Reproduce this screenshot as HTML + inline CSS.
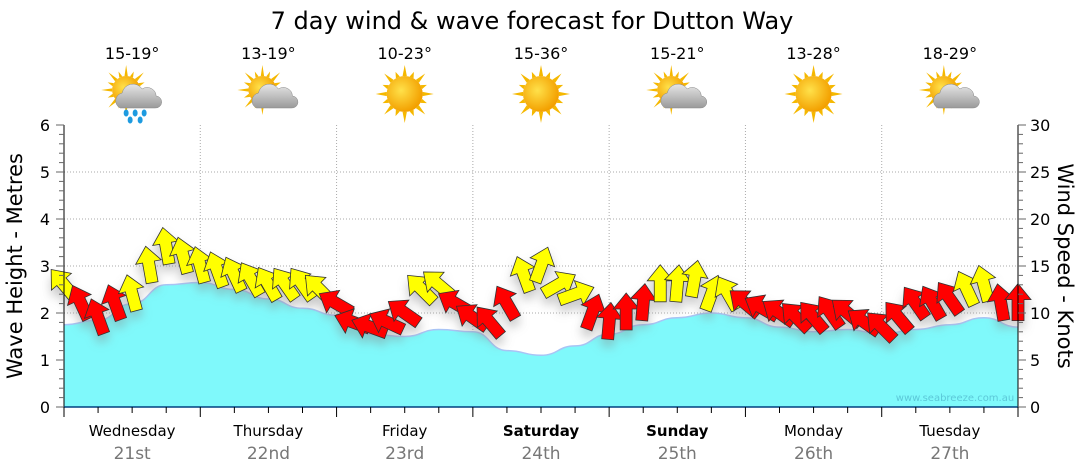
<!DOCTYPE html>
<html><head><meta charset="utf-8">
<style>
html,body{margin:0;padding:0;background:#fff;}
svg{display:block;font-family:"DejaVu Sans","Liberation Sans",sans-serif;}
</style></head>
<body>
<svg id="chart" width="1080" height="475" viewBox="0 0 1080 475" xmlns="http://www.w3.org/2000/svg">
<defs>
<filter id="sh" x="-20%" y="-20%" width="140%" height="160%"><feDropShadow dx="0" dy="7" stdDeviation="5" flood-color="#888" flood-opacity="0.45"/></filter>
<radialGradient id="sunG" cx="0.4" cy="0.4" r="0.6"><stop offset="0" stop-color="#ffe14a"/><stop offset="1" stop-color="#f3a000"/></radialGradient>
<linearGradient id="cloudG" x1="0" y1="0" x2="0" y2="1"><stop offset="0" stop-color="#e6e6e6"/><stop offset="1" stop-color="#9a9a9a"/></linearGradient>
</defs>
<text x="532" y="29" text-anchor="middle" font-size="24" fill="#000">7 day wind &amp; wave forecast for Dutton Way</text>
<g id="grid"></g>
<g id="waves"></g>
<g id="arrows" filter="url(#sh)"></g>
<g id="axes"></g>
<g id="header"></g>
<text x="955" y="401" text-anchor="middle" font-size="10" fill="#5cc8d8">www.seabreeze.com.au</text>
<text transform="translate(22,266) rotate(-90)" text-anchor="middle" font-size="21">Wave Height - Metres</text>
<text transform="translate(1058,266) rotate(90)" text-anchor="middle" font-size="21">Wind Speed - Knots</text>
</svg>
<script>
const days = ["Wednesday","Thursday","Friday","Saturday","Sunday","Monday","Tuesday"];
const dates = ["21st","22nd","23rd","24th","25th","26th","27th"];
const boldDays = [false,false,false,true,true,false,false];
const temps = ["15-19°","13-19°","10-23°","15-36°","15-21°","13-28°","18-29°"];
const icons = ["rain","cloud","sun","sun","cloud","sun","cloud"];
const waveHours = [0,6,12,18,24,30,36,42,48,54,60,66,72,78,84,90,96,102,108,114,120,126,132,138,144,150,156,162,168];
const waveHeight = [1.75,1.85,2.2,2.6,2.65,2.5,2.3,2.1,1.95,1.55,1.5,1.65,1.6,1.2,1.1,1.3,1.55,1.75,1.9,2.0,1.9,1.7,1.6,1.65,1.55,1.65,1.75,1.9,1.7];
const windHours = [0,3,6,9,12,15,18,21,24,27,30,33,36,39,42,45,48,51,54,57,60,63,66,69,72,75,78,81,84,87,90,93,96,99,102,105,108,111,114,117,120,123,126,129,132,135,138,141,144,147,150,153,156,159,162,165,168];
const windSpeed = [13,11,9.5,11,12,15,17,16,15,14.5,14,13.5,13,13,13,12.5,11,9,8.5,9,10,12.5,13,11,9.5,9,11,14,15,13,12,10,9,10,11,13,13,13.5,12,12,11,10.5,10,9.5,9.5,10,10,9,8.5,9.5,11,11,11.5,12.5,13,11,11];
const windDir = [-40,-25,-20,-20,-15,-10,-10,-15,-15,-20,-25,-30,-30,-35,-35,-45,-60,-70,-70,-65,-55,-45,-50,-60,-55,-40,-30,-20,20,60,70,20,5,0,5,0,5,10,20,-30,-50,-60,-55,-45,-40,-35,-50,-55,-45,-40,-35,-30,-35,-25,-15,-10,0];

const X0=64,X1=1018,Y0=407,Y1=125;
const NS="http://www.w3.org/2000/svg";
function xH(h){return X0+(X1-X0)*h/168;}
function yM(m){return Y0-(Y0-Y1)*m/6;}
function yK(k){return Y0-(Y0-Y1)*k/30;}
function mk(tag,attrs,parent){const e=document.createElementNS(NS,tag);for(const k in attrs)e.setAttribute(k,attrs[k]);parent.appendChild(e);return e;}

const grid=document.getElementById('grid');
for(let m=1;m<=5;m++){const l=mk('line',{x1:X0,x2:X1,y1:yM(m),y2:yM(m),stroke:'#aaa','stroke-dasharray':'1,2'},grid);

}
for(let d=1;d<7;d++){const l=mk('line',{x1:xH(d*24),x2:xH(d*24),y1:Y1,y2:Y0,stroke:'#aaa','stroke-dasharray':'1,2'},grid);

}

// waves
const wv=document.getElementById('waves');
const wpts=waveHours.map((h,i)=>[xH(h),yM(waveHeight[i])]);
let wd='M'+wpts[0][0]+','+wpts[0][1];
for(let i=1;i<wpts.length;i++){const p=wpts[i-1],q=wpts[i],mx=(p[0]+q[0])/2;wd+=' C'+mx+','+p[1]+' '+mx+','+q[1]+' '+q[0]+','+q[1];}
const waveTopPath=wd;
const areaPath='M'+X0+','+Y0+' L'+wd.slice(1)+' L'+X1+','+Y0+' Z';
const wa=mk('path',{d:areaPath,fill:'#7ff9fb'},wv);


const wl=mk('path',{d:waveTopPath,fill:'none',stroke:'#a9c4f5','stroke-width':1.5},wv);



// arrows
const ag=document.getElementById('arrows');
windHours.forEach((h,i)=>{
  const cx=xH(h),cy=yK(windSpeed[i]);
  const col=windSpeed[i]>=12?'#ffff00':'#ff0000';
  const a=mk('path',{d:'M0,-20 L13,-4 L6,-4 L6,17 L-6,17 L-6,-4 L-13,-4 Z',fill:col,stroke:'#333','stroke-width':0.8,transform:'translate('+cx+','+cy+') rotate('+windDir[i]+')'},ag);
  
  
});

// axes
const ax=document.getElementById('axes');
mk('line',{x1:X0,x2:X0,y1:Y1,y2:Y0,stroke:'#000'},ax);
mk('line',{x1:X1,x2:X1,y1:Y1,y2:Y0,stroke:'#000'},ax);
mk('line',{x1:X0,x2:X1,y1:Y0,y2:Y0,stroke:'#004080','stroke-width':1.5},ax);
for(let m=0;m<=6;m++){
  const t=mk('text',{x:50,y:yM(m)+6,'text-anchor':'end','font-size':16},ax);t.textContent=m;
  
  
}
for(let k=0;k<=30;k+=5){
  const t=mk('text',{x:1030,y:yK(k)+6,'font-size':16},ax);t.textContent=k;
  
  
}
for(let s=0;s<=30;s++){const y=Y0-(Y0-Y1)*s/30;
  mk('line',{x1:X0-(s%5==0?8:5),x2:X0,y1:y,y2:y,stroke:'#666'},ax);
  mk('line',{x1:X1,x2:X1+(s%5==0?8:5),y1:y,y2:y,stroke:'#666'},ax);}
for(let h=0;h<=168;h+=6){const x=xH(h);mk('line',{x1:x,x2:x,y1:Y0,y2:Y0+(h%24==0?10:6),stroke:'#000'},ax);}

// header + day labels
const hd=document.getElementById('header');
function icon(type,cx,cy,g){
  const sun=type==='sun';
  const sx=sun?cx:cx-6,sy=sun?cy:cy-4,r=sun?18:14;
  for(let k=0;k<16;k++){const a=k*Math.PI/8,L=(k%2?r+6:r+11);
    mk('polygon',{points:(sx+Math.cos(a-0.12)*r)+','+(sy+Math.sin(a-0.12)*r)+' '+(sx+Math.cos(a)*L)+','+(sy+Math.sin(a)*L)+' '+(sx+Math.cos(a+0.12)*r)+','+(sy+Math.sin(a+0.12)*r),fill:'#f5b800'},g);}
  mk('circle',{cx:sx,cy:sy,r:r,fill:'url(#sunG)'},g);
  if(!sun){
    mk('path',{d:'M'+(cx-12)+','+(cy+14)+' a8,8 0 0 1 2,-15 a11,11 0 0 1 20,-4 a9,9 0 0 1 14,7 a6,6 0 0 1 -1,12 Z',fill:'url(#cloudG)',stroke:'#888','stroke-width':0.5},g);
    if(type==='rain'){[[-6,19],[3,19],[12,19],[-2,26],[8,26]].forEach(p=>mk('ellipse',{cx:cx+p[0],cy:cy+p[1],rx:2.5,ry:3.5,fill:'#1e9be0'},g));}
  }
}
days.forEach((dname,i)=>{
  const cx=xH(i*24+12);
  const t=mk('text',{x:cx,y:59,'text-anchor':'middle','font-size':16},hd);t.textContent=temps[i];
  
  
  const g=mk('g',{},hd);
  
  
  icon(icons[i],cx,94,g);
  const w=mk('text',{x:cx,y:436,'text-anchor':'middle','font-size':15,'font-weight':boldDays[i]?'bold':'normal'},hd);w.textContent=dname;
  
  
  const dt=mk('text',{x:cx,y:459,'text-anchor':'middle','font-size':17,fill:'#777'},hd);dt.textContent=dates[i];
  
  
});
</script>
</body></html>
